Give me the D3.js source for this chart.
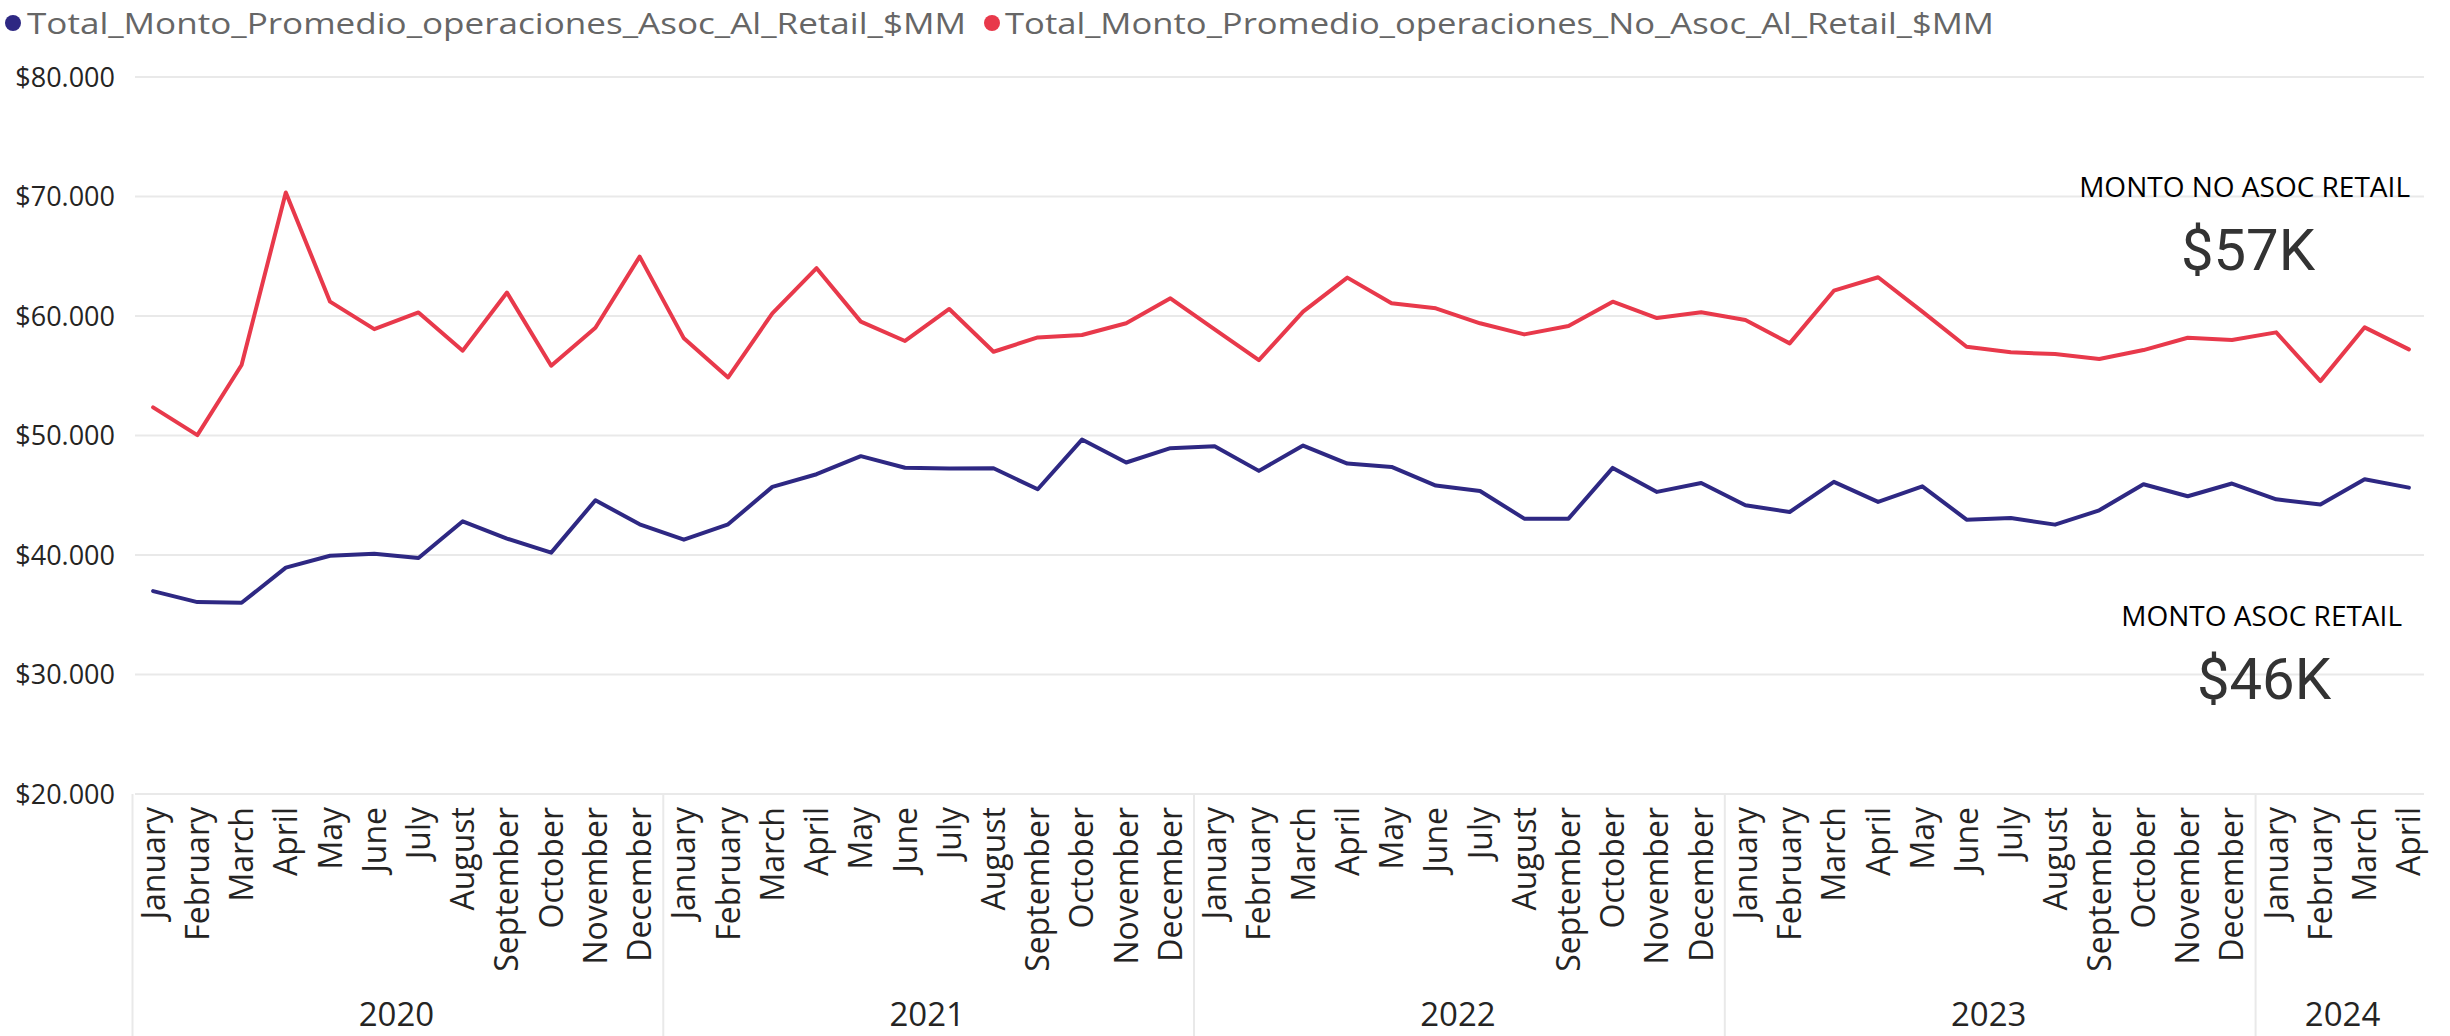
<!DOCTYPE html>
<html>
<head>
<meta charset="utf-8">
<script src="https://cdn.jsdelivr.net/npm/d3@7/dist/d3.min.js"></script>
<style>
  body { margin: 0; background: #fff; }
  text { font-family: "Open Sans", "Noto Sans", sans-serif; }
</style>
</head>
<body>
<svg id="chart" width="2450" height="1036"></svg>
<script>
// categories
var YEARS = [2020, 2021, 2022, 2023, 2024];
var MONTHS = ["January", "February", "March", "April", "May", "June",
              "July", "August", "September", "October", "November", "December"];
var MONTHS_PER_YEAR = [12, 12, 12, 12, 4];

// series values ($, miles)
var ASOC = [
    36980, 36060, 36000, 38940, 39940, 40110, 39750, 42820, 41370, 40200, 44580, 42570,
    41280, 42570, 45700, 46760, 48270, 47300, 47240, 47260, 45500, 49660, 47740, 48940,
    49110, 47040, 49160, 47650, 47370, 45810, 45360, 43040, 43040, 47290, 45280, 46030,
    44160, 43600, 46120, 44440, 45750, 42960, 43100, 42540, 43740, 45920, 44920, 45980,
    44660, 44220, 46340, 45640
];
var NO_ASOC = [
    52350, 50030, 55900, 70340, 61200, 58900, 60300, 57100, 61960, 55840, 59020, 64970,
    58130, 54860, 60220, 64000, 59530, 57910, 60590, 57010, 58210, 58410, 59390, 61480,
    58880, 56310, 60360, 63210, 61060, 60640, 59390, 58460, 59160, 61200, 59830, 60310,
    59660, 57710, 62120, 63240, 60360, 57430, 56960, 56820, 56400, 57150, 58180, 57990,
    58630, 54550, 59050, 57210
];

// ticks
var Y_TICKS = [20000, 30000, 40000, 50000, 60000, 70000, 80000];

var SERIES_NAMES = ["Total_Monto_Promedio_operaciones_Asoc_Al_Retail_$MM",
                    "Total_Monto_Promedio_operaciones_No_Asoc_Al_Retail_$MM"];
var CARD_TITLES = ["MONTO NO ASOC RETAIL", "MONTO ASOC RETAIL"];

var COLOR_ASOC = "#2e2883";
var COLOR_NO_ASOC = "#e8394b";

var svg = d3.select("#chart");

// categoria = año + mes
var CATS = [];
YEARS.forEach(function(y, yi){
    for (var m = 0; m < MONTHS_PER_YEAR[yi]; m++) {
        CATS.push({key: y + "-" + m, year: y, month: MONTHS[m]});
    }
});

var x = d3.scaleBand()
    .domain(CATS.map(function(d){ return d.key; }))
    .range([131, 2431])
    .padding(0);

var y = d3.scaleLinear()
    .domain([20000, 80000])
    .range([794, 77]);

var esCL = d3.formatLocale({decimal: ",", thousands: ".", grouping: [3], currency: ["$", ""]});
var fmtTick = esCL.format("$,.0f");

// gridlines
svg.append("g")
    .selectAll("line")
    .data(Y_TICKS)
    .enter()
    .append("line")
    .attr("x1", 135)
    .attr("x2", 2424)
    .attr("y1", function(d){ return y(d); })
    .attr("y2", function(d){ return y(d); })
    .style("stroke", "#e9e9e9")
    .style("stroke-width", 2);

// eje y
var yAxis = svg.append("g")
    .attr("transform", "translate(115,0)")
    .call(d3.axisLeft(y).tickValues(Y_TICKS).tickFormat(fmtTick).tickSize(0).tickPadding(0));
yAxis.select(".domain").remove();
yAxis.selectAll("text")
    .style("font-family", "'Open Sans', sans-serif")
    .style("font-size", "27px")
    .attr("fill", "#252423")
    .attr("dy", "0.35em");

// separadores de año
var yearStart = [];
var acc = 0;
MONTHS_PER_YEAR.forEach(function(n, i){
    yearStart.push({year: YEARS[i], start: acc, n: n});
    acc += n;
});

svg.append("g")
    .selectAll("line")
    .data(yearStart)
    .enter()
    .append("line")
    .attr("x1", function(d){ return x(CATS[d.start].key) + 1.5; })
    .attr("x2", function(d){ return x(CATS[d.start].key) + 1.5; })
    .attr("y1", 794)
    .attr("y2", 1036)
    .style("stroke", "#e9e9e9")
    .style("stroke-width", 2);

// meses
svg.append("g")
    .selectAll("text")
    .data(CATS)
    .enter()
    .append("text")
    .attr("transform", function(d){
        return "translate(" + (x(d.key) + x.bandwidth() / 2) + ",807) rotate(-90)";
    })
    .attr("text-anchor", "end")
    .attr("dy", "0.36em")
    .style("font-size", "32px")
    .attr("fill", "#252423")
    .text(function(d){ return d.month; });

// años
svg.append("g")
    .selectAll("text")
    .data(yearStart)
    .enter()
    .append("text")
    .attr("x", function(d){
        return x(CATS[d.start].key) + x.bandwidth() * d.n / 2;
    })
    .attr("y", 1026)
    .attr("text-anchor", "middle")
    .style("font-size", "33px")
    .attr("fill", "#252423")
    .text(function(d){ return d.year; });

// lineas
var line = d3.line()
    .x(function(d, i){ return x(CATS[i].key) + x.bandwidth() / 2; })
    .y(function(d){ return y(d); });

svg.append("path")
    .datum(NO_ASOC)
    .attr("d", line)
    .attr("fill", "none")
    .attr("stroke", COLOR_NO_ASOC)
    .attr("stroke-width", 4)
    .attr("stroke-linecap", "round")
    .attr("stroke-linejoin", "round");

svg.append("path")
    .datum(ASOC)
    .attr("d", line)
    .attr("fill", "none")
    .attr("stroke", COLOR_ASOC)
    .attr("stroke-width", 4)
    .attr("stroke-linecap", "round")
    .attr("stroke-linejoin", "round");

// leyenda
var legend = [
    {name: SERIES_NAMES[0], color: COLOR_ASOC, cx: 13, tx: 27, w: 939},
    {name: SERIES_NAMES[1], color: COLOR_NO_ASOC, cx: 992, tx: 1005, w: 989}
];
var lg = svg.append("g").selectAll("g").data(legend).enter().append("g");
lg.append("circle")
    .attr("cx", function(d){ return d.cx; })
    .attr("cy", 23)
    .attr("r", 8)
    .attr("fill", function(d){ return d.color; });
lg.append("text")
    .attr("x", function(d){ return d.tx; })
    .attr("y", 23)
    .attr("dy", "0.35em")
    .attr("textLength", function(d){ return d.w; })
    .attr("lengthAdjust", "spacingAndGlyphs")
    .style("font-size", "30px")
    .attr("fill", "#666666")
    .text(function(d){ return d.name; });

// tarjetas
var fmtK = function(v){ return "$" + Math.round(v / 1000) + "K"; };
var cards = [
    {title: CARD_TITLES[0], value: NO_ASOC[NO_ASOC.length - 1], tx: 2410, ty: 197, vx: 2248, vy: 270},
    {title: CARD_TITLES[1], value: ASOC[ASOC.length - 1], tx: 2402, ty: 626, vx: 2264, vy: 699}
];
var cg = svg.append("g").selectAll("g").data(cards).enter().append("g");
cg.append("text")
    .attr("x", function(d){ return d.tx; })
    .attr("y", function(d){ return d.ty; })
    .attr("text-anchor", "end")
    .style("font-size", "28px")
    .attr("fill", "#000")
    .text(function(d){ return d.title; });
cg.append("text")
    .attr("x", function(d){ return d.vx; })
    .attr("y", function(d){ return d.vy; })
    .attr("text-anchor", "middle")
    .style("font-family", "Roboto, sans-serif")
    .style("font-size", "58px")
    .attr("fill", "#333333")
    .text(function(d){ return fmtK(d.value); });
</script>
</body>
</html>
